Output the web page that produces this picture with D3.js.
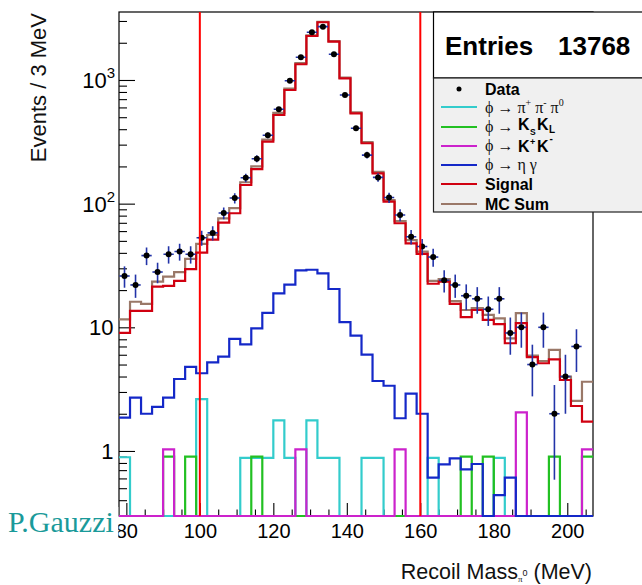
<!DOCTYPE html>
<html><head><meta charset="utf-8">
<script src="https://cdn.jsdelivr.net/npm/d3@7"></script>
<style>body{margin:0;background:#fff}svg{display:block}</style>
</head><body>
<script>
// ---- data ----
const binLow = [78,81,84,87,90,93,96,99,102,105,108,111,114,117,120,123,126,129,132,135,138,141,144,147,150,153,156,159,162,165,168,171,174,177,180,183,186,189,192,195,198,201,204];
const binWidth = 3;
const dataCounts = [26,22,38,28,39,41,39,53,58,84,111,162,231,357,580,987,1525,2431,2699,1614,756,407,247,163,112,81,54,45,37,24,22,18,17,14,17,9,10,5,10,2,4,7,null];
const signal = [9.0,13.6,13.6,21.3,21.6,23.7,29.6,40.2,51.2,70.2,83.6,141.5,190,317,521,830,1340,2268,2929,2040,1032,538,308,176,104,69.4,47.8,39.2,22.5,23.4,15.5,12.1,13.8,11.5,10.6,7.43,10.8,5.75,5.12,5.51,3.75,2.31,1.73];
const mcSum = [11.6,16.1,15.5,23.4,25.7,27.9,35.7,47.2,55.8,76,92,149,200,330,542,853,1370,2300,2957,2061,1043,547,315,181,107,72.3,50.7,41,23.7,24.5,16.3,13.8,14.3,12.6,11.8,8.15,13.0,5.9,5.34,6.56,3.99,2.54,3.63];
const etaGamma = [1.86,2.70,2.0,2.27,2.70,3.82,4.78,4.25,5.21,5.79,8.05,7.29,9.82,13.1,18.8,22.1,28.9,29.2,27.3,20.4,11.0,8.56,6.01,3.68,3.37,1.84,2.91,2.0,0.61,0.78,0.87,0.71,0.785,0,0.44,0.61,0,0,0,0,0,0,0];
const pipipi0 = [0.89,0,0,0,0,0,0,2.63,0,0,0,0.88,0.88,0.88,1.77,0.88,0,1.77,0.88,0.88,0,0,0.88,0.88,0,0,0,0,0.88,0,0,0,0,0,0.88,0,0,0,0,0,0,0,0];
const ksKl = [0,0,0,0,0.9,0,0.9,0,0,0,0,0,0.9,0,0,0,0,0,0,0,0,0,0,0,0,0,0,0,0,0,0,0.9,0,0.9,0,0,0,0,0,0.9,0,0,0.9];
const kpKm = [0,0,0,0,1.03,0,0,0,0,0,0,0,0,0,0,0,1.03,0,0,0,0,0,0,0,0,1.03,0,0,0,0,0,0,0,0,0,0,2.05,0,0,0,0,0,1.03];
const cutLines = [100,160];
const xTicksMajor = [80,100,120,140,160,180,200];
const yTickLabels = [{v:1,base:"1",exp:""},{v:10,base:"10",exp:""},{v:100,base:"10",exp:"2"},{v:1000,base:"10",exp:"3"}];
const entries = 13768;

// ---- layout ----
const W=642,H=585;
const F={l:119,t:12,r:593,b:516};
const svg=d3.select("body").append("svg").attr("width",W).attr("height",H);
const x=d3.scaleLinear().domain([78,207]).range([F.l,F.r]);
const y=d3.scaleLog().domain([0.298,3546]).range([F.b,F.t]);
const yv=v=>(v>0?y(v):F.b);

svg.append("defs").append("clipPath").attr("id","clip")
  .append("rect").attr("x",F.l).attr("y",F.t).attr("width",F.r-F.l).attr("height",F.b-F.t+1.5);

// frame
svg.append("rect").attr("x",F.l).attr("y",F.t).attr("width",F.r-F.l).attr("height",F.b-F.t)
  .attr("fill","none").attr("stroke","#000").attr("stroke-width",1.2);

// axes ticks
const font="'Liberation Sans', Arial, Helvetica, sans-serif";
const gx=svg.append("g").attr("transform",`translate(0,${F.b})`)
  .call(d3.axisBottom(x).tickValues(xTicksMajor).tickSize(-13).tickPadding(8).tickFormat(d3.format("d")));
gx.select(".domain").remove();
gx.selectAll("text").attr("font-family",font).attr("font-size",20).attr("fill","#000");
const minorX=d3.range(80,207,5).filter(v=>v%20!==0);
const gx2=svg.append("g").attr("transform",`translate(0,${F.b})`)
  .call(d3.axisBottom(x).tickValues(minorX).tickSize(-6.5).tickFormat(""));
gx2.select(".domain").remove();

const gy=svg.append("g").attr("transform",`translate(${F.l},0)`)
  .call(d3.axisLeft(y).tickValues(yTickLabels.map(d=>d.v)).tickSize(-16).tickFormat(""));
gy.select(".domain").remove();
const minorY=[];
[0.1,1,10,100,1000].forEach(dec=>{for(let k=2;k<=9;k++){const v=dec*k;if(v>=0.3&&v<=3546)minorY.push(v);}});
const gy2=svg.append("g").attr("transform",`translate(${F.l},0)`)
  .call(d3.axisLeft(y).tickValues(minorY).tickSize(-8).tickFormat(""));
gy2.select(".domain").remove();
svg.selectAll(".tick line").attr("stroke","#000").attr("stroke-width",1.1);

// y tick labels
yTickLabels.forEach(d=>{
  const t=svg.append("text").attr("x",d.exp?115:113.5).attr("y",y(d.v)+8)
    .attr("text-anchor","end").attr("font-family",font).attr("font-size",22).attr("fill","#000");
  t.append("tspan").text(d.base);
  if(d.exp) t.append("tspan").attr("font-size",15).attr("dy",-10).text(d.exp);
});

// histograms
const plot=svg.append("g").attr("clip-path","url(#clip)");
function histPath(vals){
  const pts=binLow.map((lo,i)=>[x(lo),yv(vals[i])]);
  pts.push([x(binLow[binLow.length-1]+binWidth),yv(vals[vals.length-1])]);
  return d3.line().curve(d3.curveStepAfter)(pts);
}
const series=[
  {vals:mcSum,color:"#9a7868"},
  {vals:pipipi0,color:"#33cccc"},
  {vals:ksKl,color:"#22c022"},
  {vals:kpKm,color:"#cc22cc"},
  {vals:etaGamma,color:"#1428c8"},
  {vals:signal,color:"#d00010"}
];
series.forEach(s=>{
  plot.append("path").attr("d",histPath(s.vals)).attr("fill","none")
    .attr("stroke",s.color).attr("stroke-width",2.2).attr("stroke-linejoin","miter");
});

// data points with errors
const pts=binLow.map((lo,i)=>({c:lo+binWidth/2,v:dataCounts[i]})).filter(d=>d.v!=null);
const eg=plot.append("g").attr("stroke","#2233a8").attr("stroke-width",1.6);
pts.forEach(d=>{
  const e=Math.sqrt(d.v);
  const lo=d.v-e;
  eg.append("line").attr("x1",x(d.c)).attr("x2",x(d.c)).attr("y1",lo>0?y(lo):F.b).attr("y2",y(d.v+e));
  eg.append("line").attr("x1",x(d.c-1.4)).attr("x2",x(d.c+1.4)).attr("y1",y(d.v)).attr("y2",y(d.v));
});
plot.append("g").selectAll("circle").data(pts).join("circle")
  .attr("cx",d=>x(d.c)).attr("cy",d=>y(d.v)).attr("r",3).attr("fill","#000");

// cut lines
cutLines.forEach(c=>{
  svg.append("line").attr("x1",x(c)).attr("x2",x(c)).attr("y1",F.t).attr("y2",F.b)
    .attr("stroke","#ff0000").attr("stroke-width",2);
});

// stats box
svg.append("rect").attr("x",433.5).attr("y",12).attr("width",230).attr("height",66)
  .attr("fill","#fff").attr("stroke","#000").attr("stroke-width",1.2);
svg.append("text").attr("x",445).attr("y",55).attr("font-family",font).attr("font-weight","bold")
  .attr("font-size",26).text("Entries");
svg.append("text").attr("x",558).attr("y",55).attr("font-family",font).attr("font-weight","bold")
  .attr("font-size",26).text(entries);

// legend
svg.append("rect").attr("x",433.5).attr("y",78).attr("width",230).attr("height",134)
  .attr("fill","#f0f0f0").attr("stroke","#222").attr("stroke-width",1.2);
const serif="'Liberation Serif','DejaVu Serif',serif";
svg.append("circle").attr("cx",459).attr("cy",89).attr("r",2.5).attr("fill","#000");
svg.append("text").attr("x",485).attr("y",95).attr("font-family",font).attr("font-weight","bold").attr("font-size",16).text("Data");
const legLines=[{y:107,c:"#33cccc"},{y:127,c:"#22c022"},{y:146,c:"#cc22cc"},{y:165,c:"#1428c8"},{y:184,c:"#d00010"},{y:204,c:"#9a7868"}];
legLines.forEach(l=>svg.append("line").attr("x1",441).attr("x2",477).attr("y1",l.y).attr("y2",l.y).attr("stroke",l.c).attr("stroke-width",2));
function phiArrow(yb){
  const t=svg.append("text").attr("x",485).attr("y",yb).attr("font-family",serif).attr("font-size",16).attr("fill","#111");
  t.append("tspan").text("\u03d5 \u2192 ");
  return t;
}
let t1=phiArrow(113);
t1.append("tspan").text("\u03c0");
t1.append("tspan").attr("font-size",10).attr("dy",-7).text("+");
t1.append("tspan").attr("dy",7).text(" \u03c0");
t1.append("tspan").attr("font-size",10).attr("dy",-7).text("-");
t1.append("tspan").attr("dy",7).text(" \u03c0");
t1.append("tspan").attr("font-size",10).attr("dy",-7).text("0");
phiArrow(132);
svg.append("text").attr("x",518).attr("y",130).attr("font-family",font).attr("font-weight","bold").attr("font-size",16).text("K");
svg.append("text").attr("x",530).attr("y",134.5).attr("font-family",font).attr("font-weight","bold").attr("font-size",8.5).text("S");
svg.append("text").attr("x",537).attr("y",130).attr("font-family",font).attr("font-weight","bold").attr("font-size",16).text("K");
svg.append("text").attr("x",549).attr("y",132.5).attr("font-family",font).attr("font-weight","bold").attr("font-size",10).text("L");
phiArrow(151);
svg.append("text").attr("x",518).attr("y",151.5).attr("font-family",font).attr("font-weight","bold").attr("font-size",16).text("K");
svg.append("text").attr("x",530).attr("y",145).attr("font-family",font).attr("font-weight","bold").attr("font-size",9).text("+");
svg.append("text").attr("x",537).attr("y",151.5).attr("font-family",font).attr("font-weight","bold").attr("font-size",16).text("K");
svg.append("text").attr("x",549.5).attr("y",142).attr("font-family",font).attr("font-weight","bold").attr("font-size",10).text("-");
let t4=phiArrow(170);
t4.append("tspan").text("\u03b7 \u03b3");
svg.append("text").attr("x",485).attr("y",190).attr("font-family",font).attr("font-weight","bold").attr("font-size",16).text("Signal");
svg.append("text").attr("x",485).attr("y",210).attr("font-family",font).attr("font-weight","bold").attr("font-size",16).text("MC Sum");

// axis titles
svg.append("text").attr("transform","translate(46,13) rotate(-90)").attr("text-anchor","end")
  .attr("font-family",font).attr("font-size",22).attr("fill","#111").text("Events / 3 MeV");
const xt=svg.append("text").attr("x",592).attr("y",579).attr("text-anchor","end")
  .attr("font-family",font).attr("font-size",21.5).attr("fill","#111");
xt.append("tspan").text("Recoil Mass");
xt.append("tspan").attr("font-size",9).attr("font-family",serif).attr("dy",3).text("\u03c0");
xt.append("tspan").attr("font-size",9).attr("dy",-6).text("0");
xt.append("tspan").attr("dy",3).text(" (MeV)");

// watermark
svg.append("rect").attr("x",0).attr("y",507).attr("width",118.3).attr("height",34).attr("fill","#fff");
svg.append("text").attr("x",8).attr("y",532).attr("font-family",serif).attr("font-size",30)
  .attr("fill","#1a9a9a").text("P.Gauzzi");
</script>
</body></html>
